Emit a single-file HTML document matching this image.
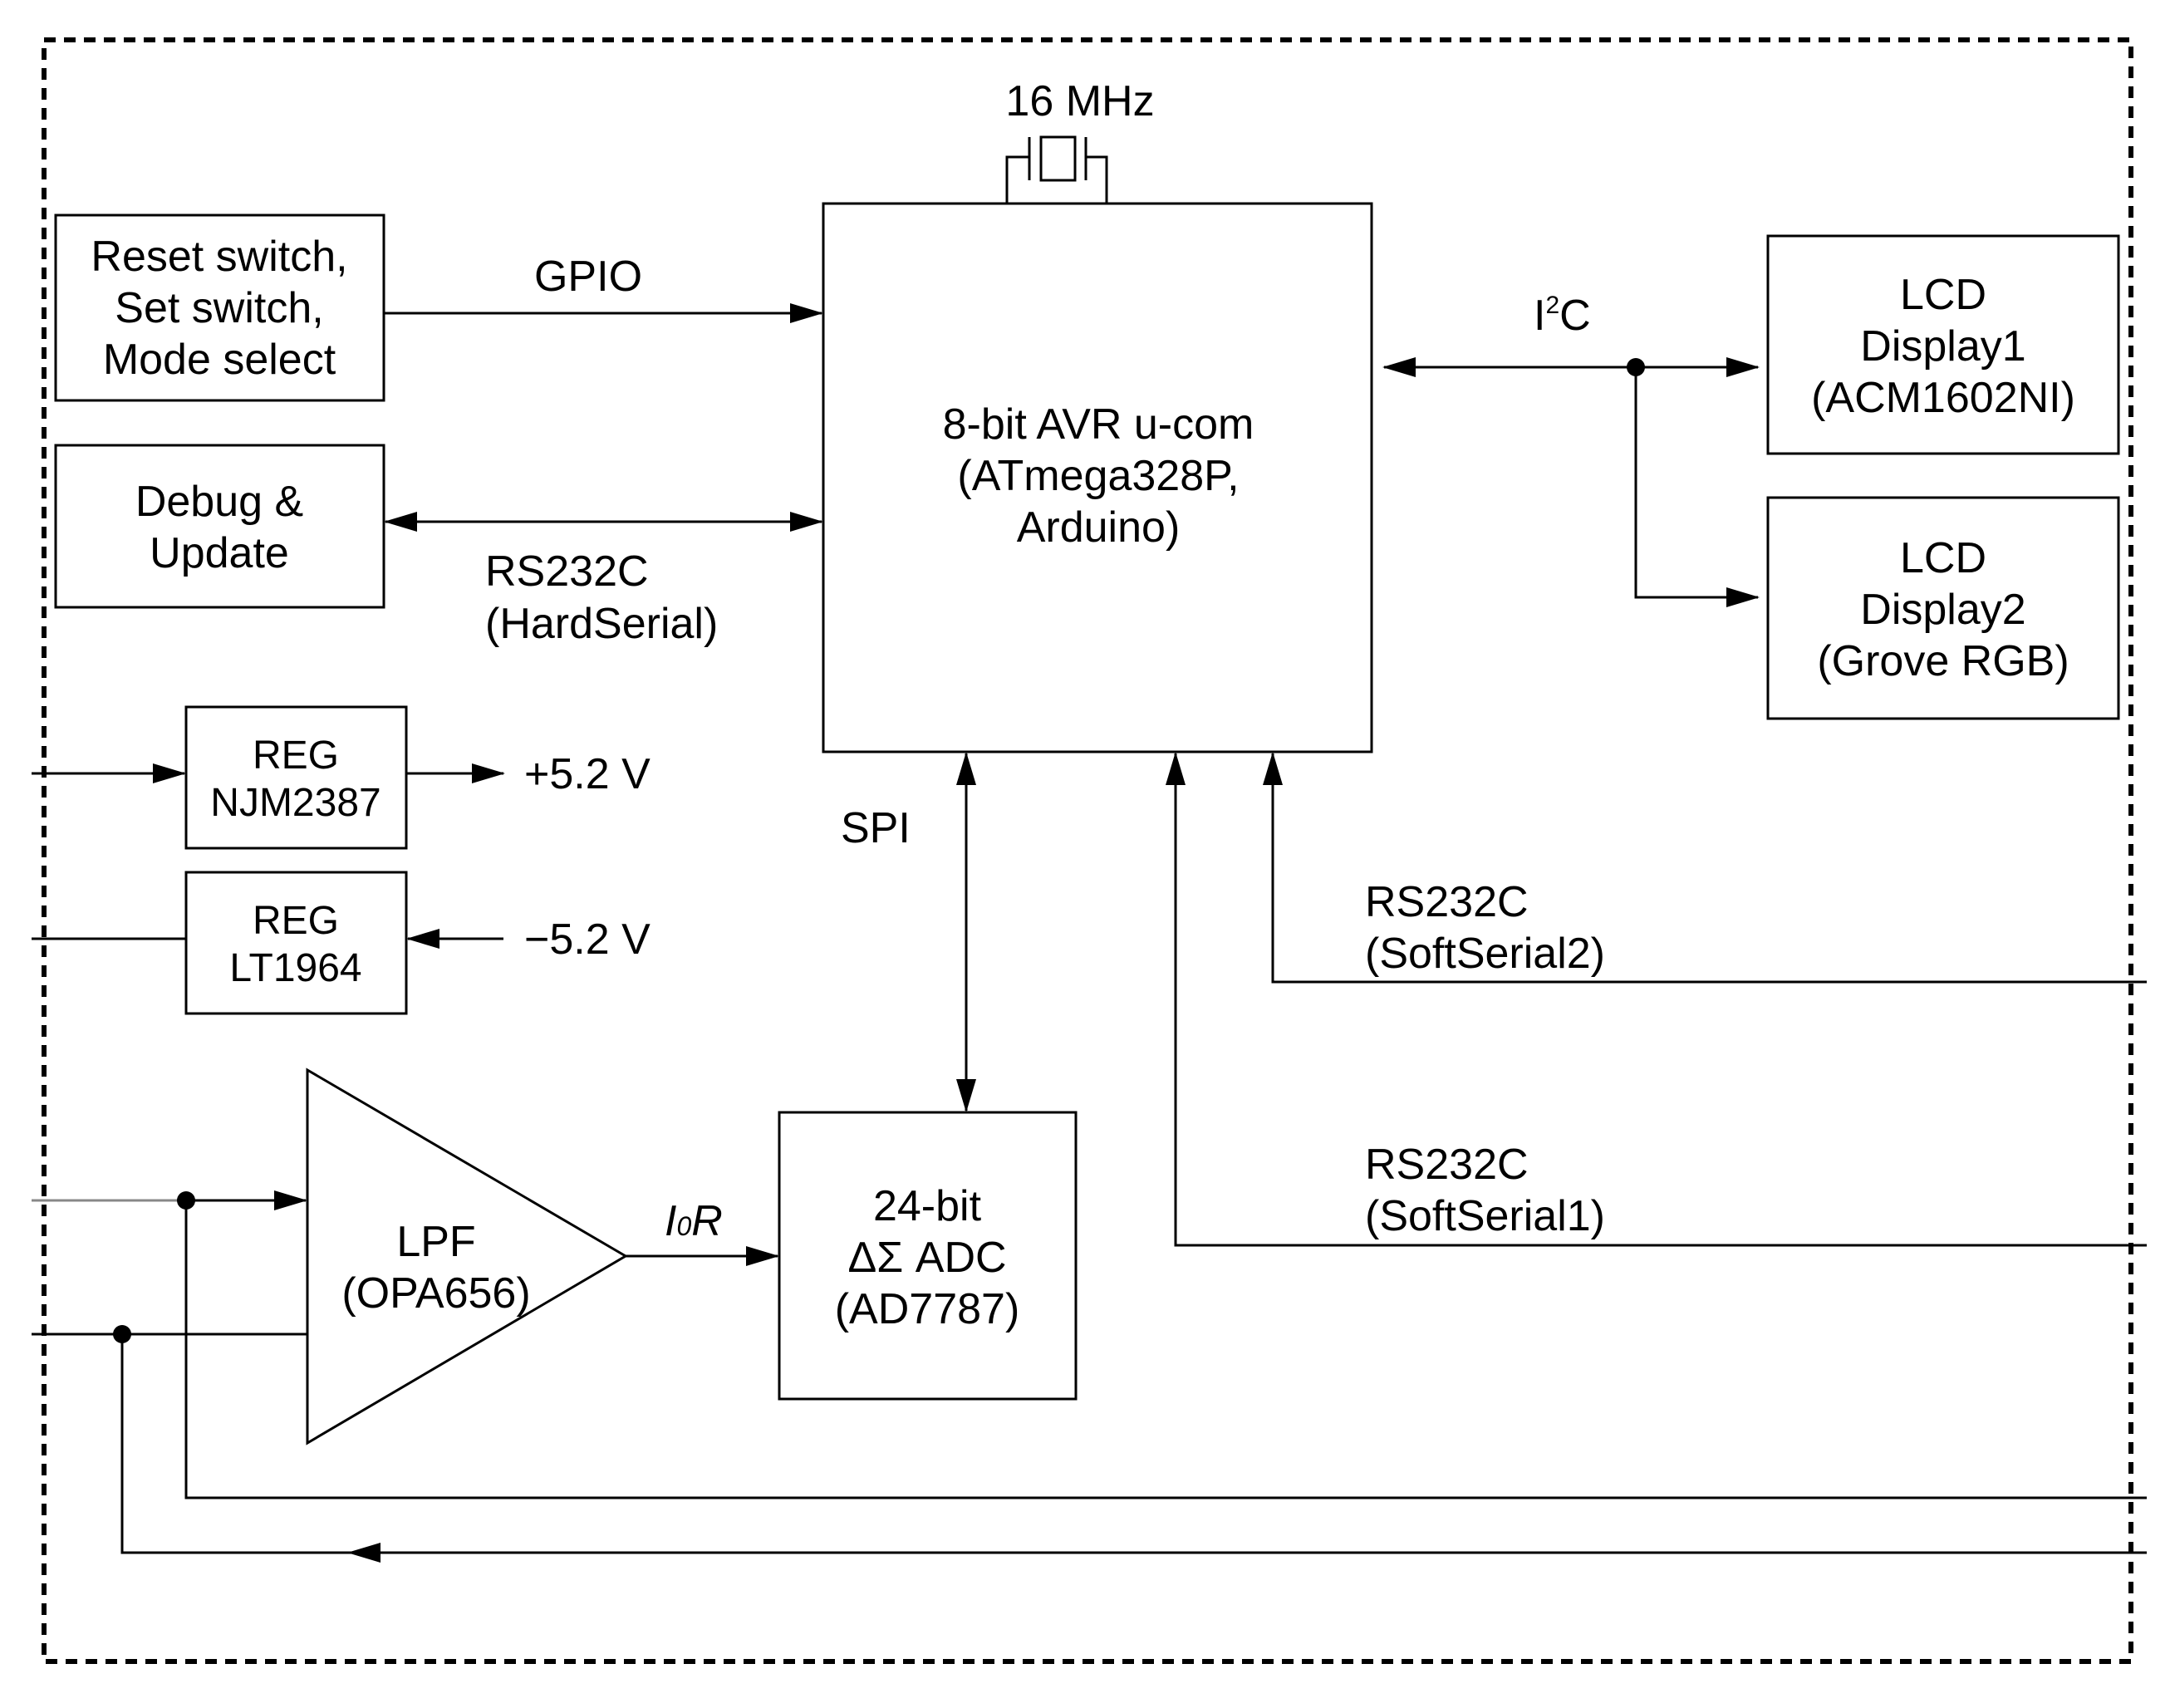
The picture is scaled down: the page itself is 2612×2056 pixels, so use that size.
<!DOCTYPE html>
<html><head><meta charset="utf-8"><style>html,body{margin:0;padding:0;background:#fff}</style></head>
<body>
<svg width="2612" height="2051" xmlns="http://www.w3.org/2000/svg" font-family="Liberation Sans, sans-serif" font-size="52" fill="#000">
<defs>
<marker id="a" markerWidth="40" markerHeight="24" refX="38" refY="12" orient="auto" markerUnits="userSpaceOnUse"><path d="M0,0 L40,12 L0,24 z" fill="#000"/></marker>
<marker id="b" markerWidth="40" markerHeight="24" refX="2" refY="12" orient="auto" markerUnits="userSpaceOnUse"><path d="M40,0 L0,12 L40,24 z" fill="#000"/></marker>
</defs>
<rect x="53" y="48" width="2512" height="1952" fill="none" stroke="#000" stroke-width="6" stroke-dasharray="14,10"/>
<g fill="none" stroke="#000" stroke-width="3">
<!-- crystal -->
<path d="M1212,245 V189 H1239 M1239,165 V217 M1307,165 V217 M1307,189 H1332 V245"/>
<rect x="1253" y="165" width="41" height="52"/>
<rect x="991" y="245" width="660" height="660"/>
<rect x="67" y="259" width="395" height="223"/>
<rect x="67" y="536" width="395" height="195"/>
<rect x="224" y="851" width="265" height="170"/>
<rect x="224" y="1050" width="265" height="170"/>
<rect x="938" y="1339" width="357" height="345"/>
<rect x="2128" y="284" width="422" height="262"/>
<rect x="2128" y="599" width="422" height="266"/>
<path d="M370,1288 L753,1512 L370,1737 Z"/>
<line x1="462" y1="377" x2="989" y2="377" marker-end="url(#a)"/>
<line x1="464" y1="628" x2="989" y2="628" marker-start="url(#b)" marker-end="url(#a)"/>
<line x1="38" y1="931" x2="222" y2="931" marker-end="url(#a)"/>
<line x1="489" y1="931" x2="606" y2="931" marker-end="url(#a)"/>
<line x1="38" y1="1130" x2="224" y2="1130"/>
<line x1="606" y1="1130" x2="491" y2="1130" marker-end="url(#a)"/>
<line x1="1163" y1="907" x2="1163" y2="1337" marker-start="url(#b)" marker-end="url(#a)"/>
<path d="M2584,1182 H1532 V907" marker-end="url(#a)"/>
<path d="M2584,1499 H1415 V907" marker-end="url(#a)"/>
<line x1="1666" y1="442" x2="2116" y2="442" marker-start="url(#b)" marker-end="url(#a)"/>
<path d="M1969,442 V719 H2116" marker-end="url(#a)"/>
<line x1="753" y1="1512" x2="936" y2="1512" marker-end="url(#a)"/>
<line x1="38" y1="1445" x2="224" y2="1445" stroke="#888"/>
<line x1="224" y1="1445" x2="368" y2="1445" marker-end="url(#a)"/>
<line x1="38" y1="1606" x2="370" y2="1606"/>
<path d="M224,1445 V1803 H2584"/>
<path d="M2584,1869 H147 V1606"/>
<line x1="2584" y1="1869" x2="420" y2="1869" marker-end="url(#a)"/>
</g>
<circle cx="1969" cy="442" r="11"/>
<circle cx="224" cy="1445" r="11"/>
<circle cx="147" cy="1606" r="11"/>
<g text-anchor="middle">
<text x="1300" y="139">16 MHz</text>
<text x="264" y="326">Reset switch,</text>
<text x="264" y="388">Set switch,</text>
<text x="264" y="450">Mode select</text>
<text x="708" y="350">GPIO</text>
<text x="264" y="621">Debug &amp;</text>
<text x="264" y="683">Update</text>
<text x="1322" y="528">8-bit AVR u-com</text>
<text x="1322" y="590">(ATmega328P,</text>
<text x="1322" y="652">Arduino)</text>
<text x="356" y="925" font-size="48">REG</text>
<text x="356" y="982" font-size="48">NJM2387</text>
<text x="356" y="1124" font-size="48">REG</text>
<text x="356" y="1181" font-size="48">LT1964</text>
<text x="525" y="1512">LPF</text>
<text x="525" y="1574">(OPA656)</text>
<text x="1116" y="1469">24-bit</text>
<text x="1116" y="1531">ΔΣ ADC</text>
<text x="1116" y="1593">(AD7787)</text>
<text x="2339" y="372">LCD</text>
<text x="2339" y="434">Display1</text>
<text x="2339" y="496">(ACM1602NI)</text>
<text x="2339" y="689">LCD</text>
<text x="2339" y="751">Display2</text>
<text x="2339" y="813">(Grove RGB)</text>
</g>
<text x="584" y="705">RS232C</text>
<text x="584" y="768">(HardSerial)</text>
<text x="631" y="949">+5.2 V</text>
<text x="631" y="1148">−5.2 V</text>
<text x="1012" y="1014">SPI</text>
<text x="1643" y="1103">RS232C</text>
<text x="1643" y="1165">(SoftSerial2)</text>
<text x="1643" y="1419">RS232C</text>
<text x="1643" y="1481">(SoftSerial1)</text>
<text x="1846" y="397">I<tspan font-size="30" dy="-20">2</tspan><tspan dy="20">C</tspan></text>
<text x="800" y="1487" font-style="italic">I<tspan font-size="32">0</tspan>R</text>
</svg>
</body></html>
